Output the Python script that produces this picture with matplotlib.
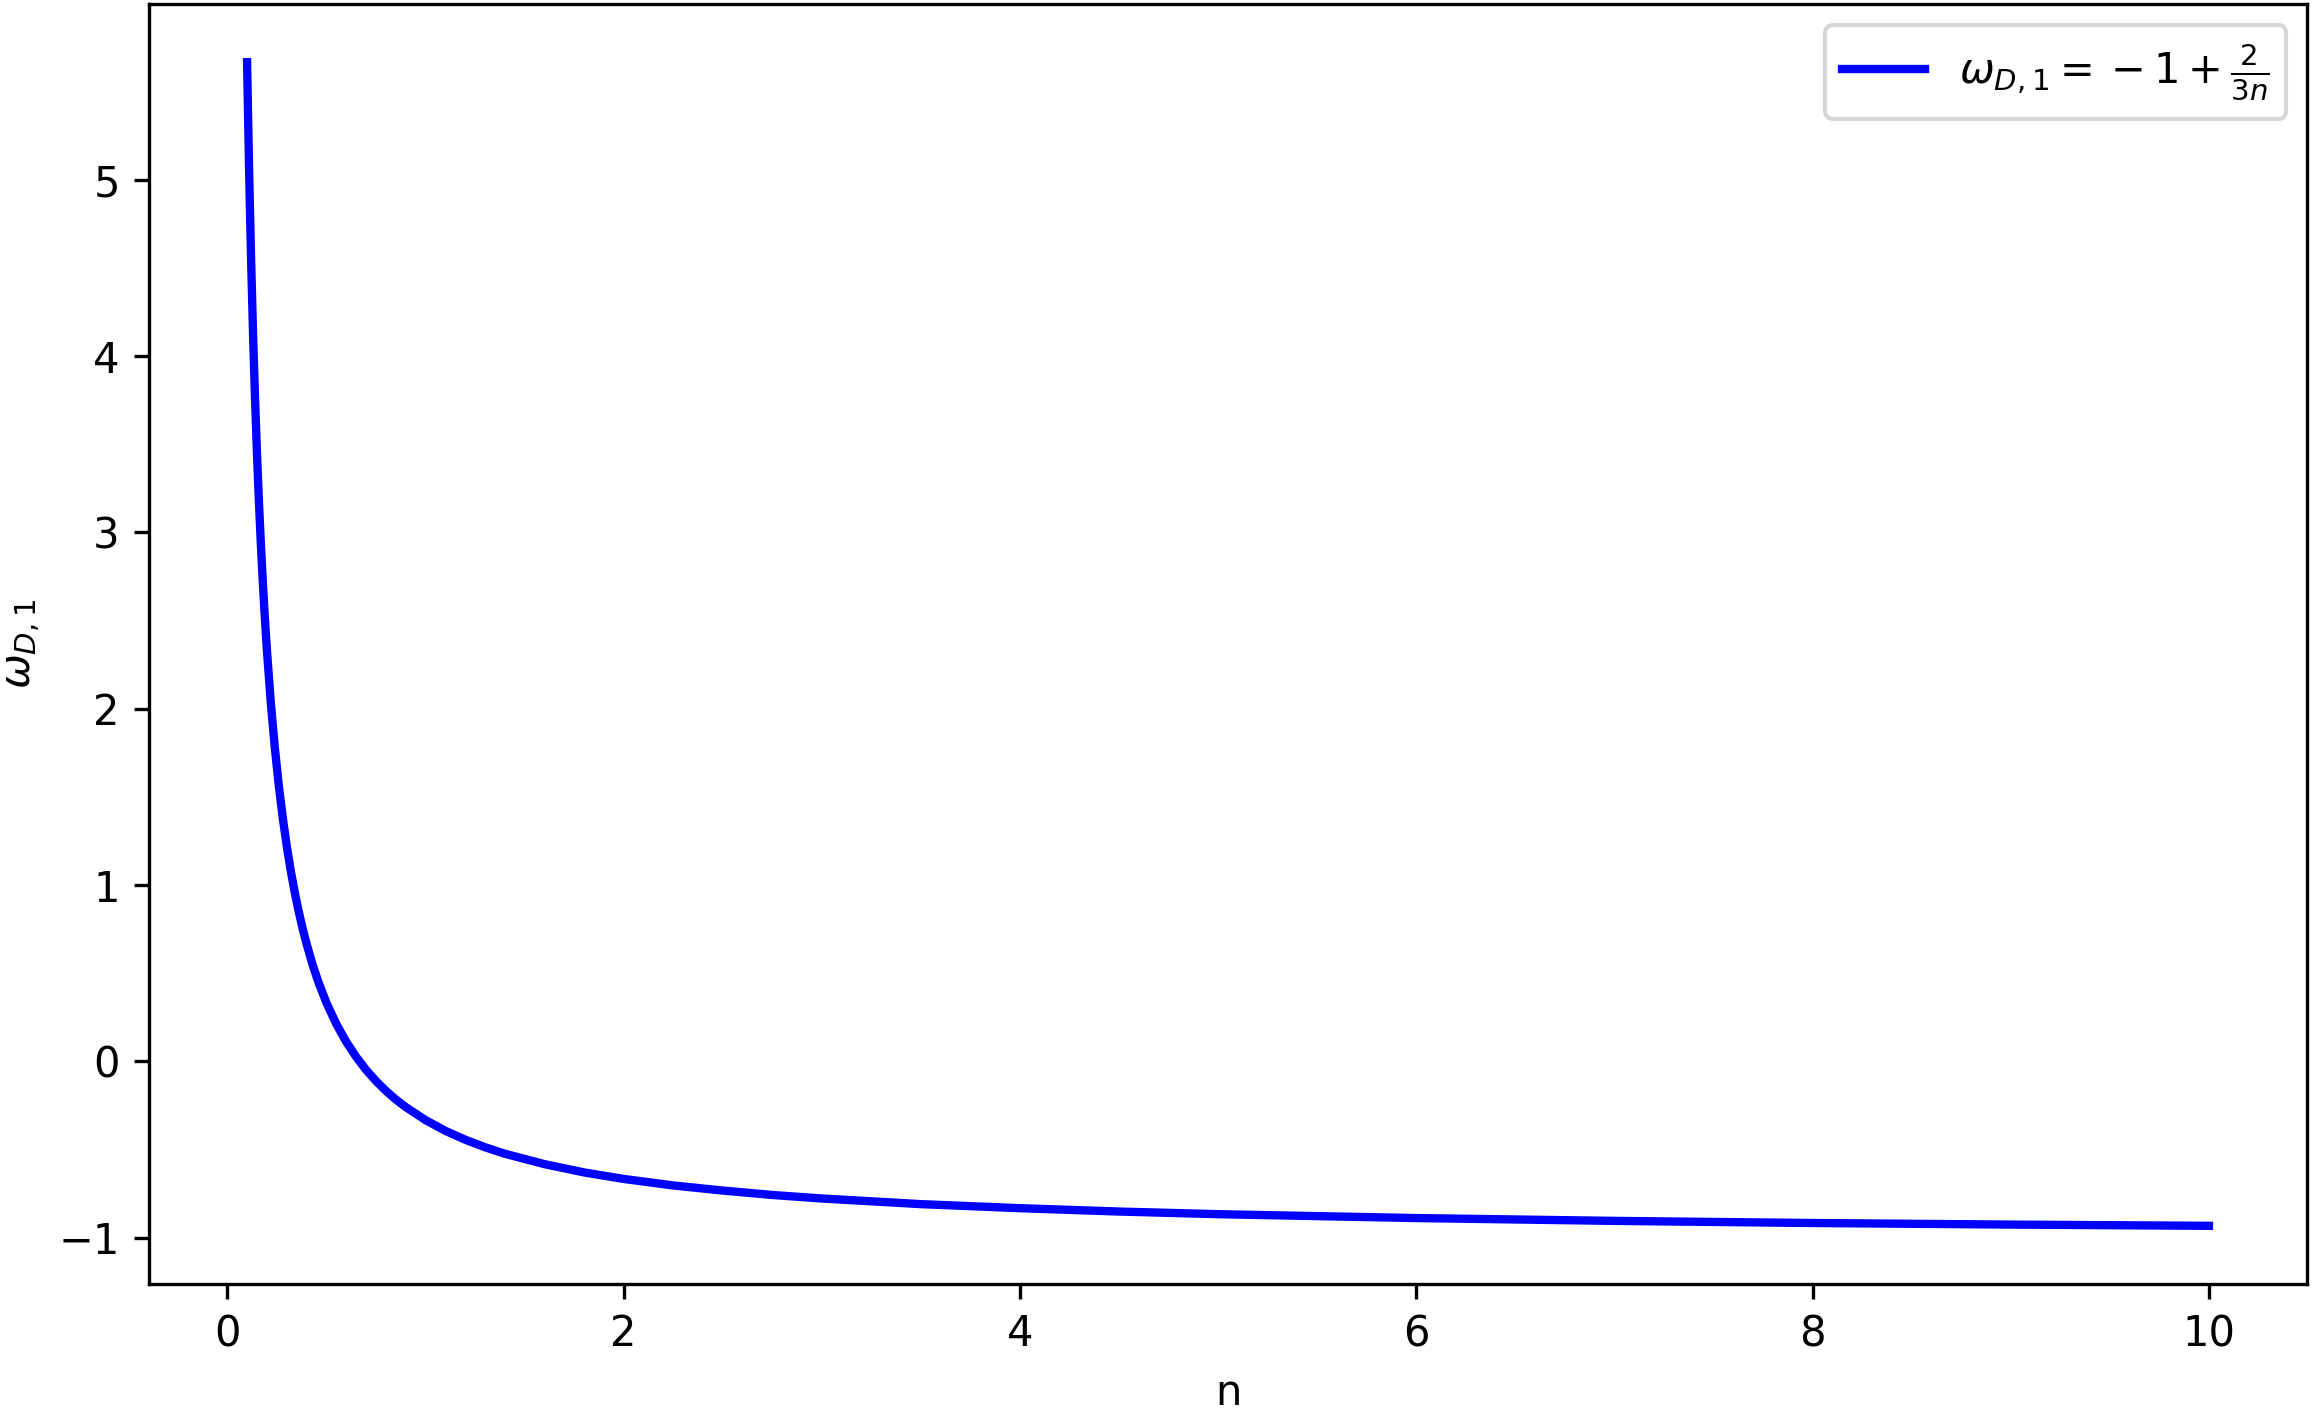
import matplotlib.pyplot as plt
import numpy as np

# values
n = [0.1, 0.11, 0.12, 0.13, 0.14, 0.15, 0.16, 0.17, 0.18, 0.19, 0.2, 0.22,
     0.24, 0.26, 0.28, 0.3, 0.32, 0.34, 0.36, 0.38, 0.4, 0.43, 0.46, 0.5,
     0.55, 0.6, 0.65, 0.7, 0.75, 0.8, 0.85, 0.9, 1.0, 1.1, 1.2, 1.3, 1.4,
     1.6, 1.8, 2.0, 2.25, 2.5, 2.75, 3.0, 3.5, 4.0, 4.5, 5.0, 6.0, 7.0, 8.0,
     9.0, 10.0]
omega = [5.667, 5.061, 4.556, 4.128, 3.762, 3.444, 3.167, 2.922, 2.704, 2.509,
         2.333, 2.030, 1.778, 1.564, 1.381, 1.222, 1.083, 0.961, 0.852, 0.754,
         0.667, 0.550, 0.449, 0.333, 0.212, 0.111, 0.026, -0.048, -0.111,
         -0.167, -0.216, -0.259, -0.333, -0.394, -0.444, -0.487, -0.524,
         -0.583, -0.630, -0.667, -0.704, -0.733, -0.758, -0.778, -0.810,
         -0.833, -0.852, -0.867, -0.889, -0.905, -0.917, -0.926, -0.933]

fig = plt.figure(figsize=(2312/300, 1408/300), dpi=300)
ax = fig.add_axes([149/2312, 1 - 1284/1408, (2307-149)/2312, (1284-4)/1408])
ax.plot(n, omega, color='blue', lw=2, label=r'$\omega_{D,1} = {} - 1 + \frac{2}{3n}$')
ax.set_xlabel('n')
ax.set_ylabel(r'$\omega_{D,1}$')
ax.legend(loc='upper right')
fig.savefig('out.png', dpi=300)
